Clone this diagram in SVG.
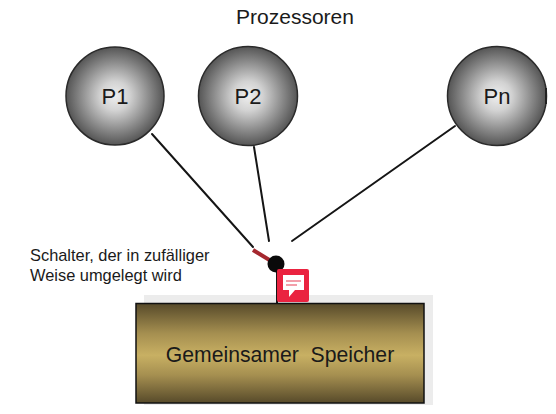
<svg xmlns="http://www.w3.org/2000/svg" width="556" height="414" viewBox="0 0 556 414">
<style>
.t{font-family:"Liberation Sans",Arial,sans-serif;fill:#1a1a1a}
.c{fill:url(#ball);stroke:#2a2a2a;stroke-width:1.5}
.l{font-size:22px;text-anchor:middle}
.w{stroke:#151515;stroke-width:2;fill:none;stroke-linecap:round}
</style>
<defs>
<radialGradient id="ball" cx="50%" cy="50%" r="50%">
<stop offset="0" stop-color="#eeeeee"/>
<stop offset="0.3" stop-color="#d2d2d2"/>
<stop offset="0.7" stop-color="#8a8a8a"/>
<stop offset="1" stop-color="#555555"/>
</radialGradient>
<linearGradient id="gold" x1="0" y1="0" x2="0" y2="1">
<stop offset="0" stop-color="#574a2a"/>
<stop offset="0.3" stop-color="#a58f50"/>
<stop offset="0.52" stop-color="#c8b063"/>
<stop offset="0.72" stop-color="#a58f50"/>
<stop offset="1" stop-color="#574a2a"/>
</linearGradient>
</defs>
<rect width="556" height="414" fill="#fff"/>
<rect x="144" y="295" width="289" height="110" fill="#ececec"/>
<text class="t" x="295" y="24" font-size="21" text-anchor="middle">Prozessoren</text>
<g id="connectors">
<path class="w" d="M152 134L253 247"/>
<path class="w" d="M254 147L269 241"/>
<path class="w" d="M455 126L292 241"/>
<path class="w" d="M277 272V303"/>
<path d="M253 250L276 264" stroke="#a5282f" stroke-width="4" fill="none"/>
</g>
<g id="p1"><circle class="c" cx="115" cy="96" r="49"/><text class="t l" x="115" y="104">P1</text></g>
<g id="p2"><circle class="c" cx="248" cy="96" r="49.5"/><text class="t l" x="248" y="104">P2</text></g>
<g id="pn"><circle class="c" cx="497" cy="96" r="49.5"/><path d="M546 88V104" stroke="#222" stroke-width="2" fill="none"/><text class="t l" x="497" y="104">Pn</text></g>
<g id="switch"><circle cx="276" cy="264" r="8.5" fill="#0a0a0a"/>
<text class="t" font-size="16.400"><tspan x="30" y="261">Schalter, der in zufälliger</tspan><tspan x="30" y="281">Weise umgelegt wird</tspan></text></g>
<g id="comment">
<rect x="277" y="269" width="32" height="33" rx="2" fill="#ea2340"/>
<path d="M283 275H304V290H295L289 297V290H283Z" fill="#fff"/>
<path d="M286 281H301M286 285H297" stroke="#f0808f" stroke-width="1.500" fill="none"/>
</g>
<g id="speicher">
<rect x="136" y="303.500" width="288" height="99.500" fill="url(#gold)" stroke="#111" stroke-width="1.500"/>
<text class="t" x="280" y="362" font-size="21.200" text-anchor="middle" xml:space="preserve">Gemeinsamer  Speicher</text>
</g>
</svg>
